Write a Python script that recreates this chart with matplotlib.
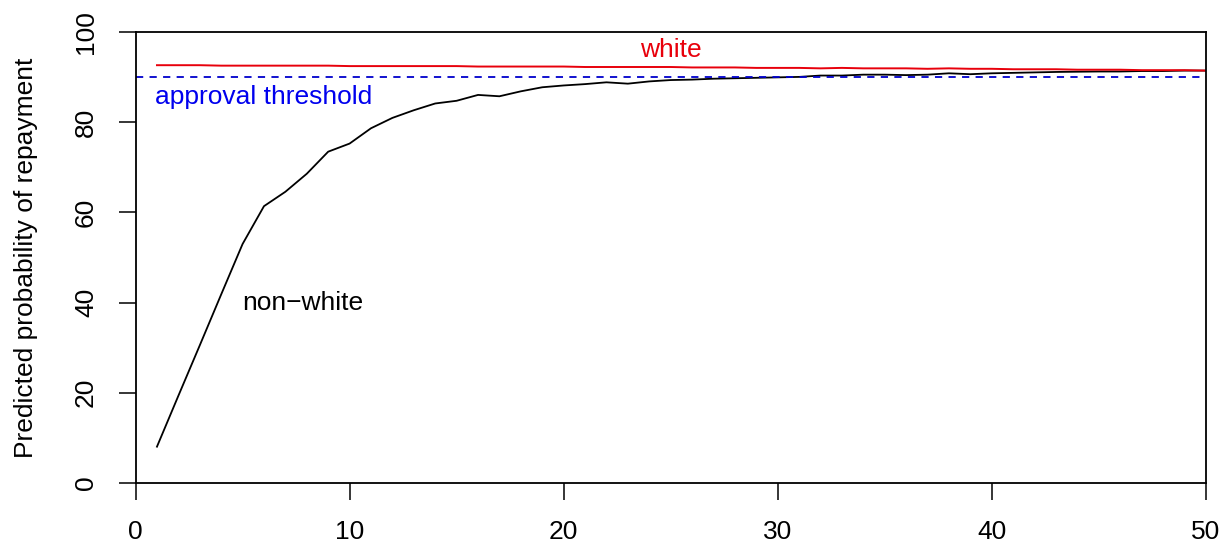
import numpy as np
import matplotlib
matplotlib.use("Agg")
import matplotlib.pyplot as plt

plt.rcParams['font.family'] = ['Liberation Sans', 'DejaVu Sans']

# applicant index 1..50
x = np.arange(1, 51)

# predicted probability of repayment (%) for non-white applicants
nonwhite = [8.0, 19.3, 30.5, 41.8, 53.0, 61.4, 64.6, 68.6, 73.5, 75.3,
            78.7, 81.0, 82.7, 84.2, 84.8, 86.1, 85.8, 86.9, 87.8, 88.2,
            88.5, 88.9, 88.6, 89.1, 89.4, 89.5, 89.7, 89.8, 89.9, 90.0,
            90.1, 90.4, 90.4, 90.6, 90.6, 90.5, 90.6, 90.9, 90.7, 90.9,
            91.0, 91.1, 91.2, 91.25, 91.3, 91.3, 91.4, 91.4, 91.5, 91.5]

# predicted probability of repayment (%) for white applicants
white = [92.7, 92.7, 92.7, 92.6, 92.6, 92.6, 92.6, 92.6, 92.6, 92.5,
         92.5, 92.5, 92.5, 92.5, 92.5, 92.4, 92.4, 92.4, 92.4, 92.4,
         92.3, 92.3, 92.3, 92.3, 92.3, 92.2, 92.2, 92.2, 92.1, 92.1,
         92.1, 92.0, 92.1, 92.0, 92.0, 92.0, 91.9, 92.0, 91.9, 91.9,
         91.8, 91.8, 91.8, 91.7, 91.7, 91.7, 91.6, 91.6, 91.6, 91.5]

threshold = 90

fig = plt.figure(figsize=(12.29, 5.45), dpi=100)
ax = fig.add_axes([0.1103, 0.1143, 0.8708, 0.8264])

ax.plot(x, nonwhite, color='black', lw=1.3)
ax.plot(x, white, color='#e8000b', lw=1.4)
ax.axhline(threshold, color='#0000cc', lw=1.3, ls=(0, (4, 3.5)))

ax.text(25, 96, 'white', color='#e8000b', fontsize=19, ha='center', va='center')
ax.text(6, 85.6, 'approval threshold', color='#0000ee', fontsize=19,
        ha='center', va='center')
ax.text(7.8, 40, 'non\u2212white', color='black', fontsize=19,
        ha='center', va='center')

ax.set_xlim(0, 50)
ax.set_ylim(0, 100)
ax.set_xticks(np.arange(0, 51, 10))
ax.set_yticks(np.arange(0, 101, 20))

for sp in ax.spines.values():
    sp.set_linewidth(1.3)

ax.tick_params(axis='both', length=12, width=1.1, labelsize=19)
ax.tick_params(axis='x', pad=15)
ax.tick_params(axis='y', pad=15)
for lbl in ax.get_yticklabels():
    lbl.set_rotation(90)
    lbl.set_va('center')

ax.set_ylabel('Predicted probability of repayment', fontsize=19, va='center')
ax.yaxis.set_label_coords(-0.102, 0.5)

fig.savefig('out.png', dpi=100)
